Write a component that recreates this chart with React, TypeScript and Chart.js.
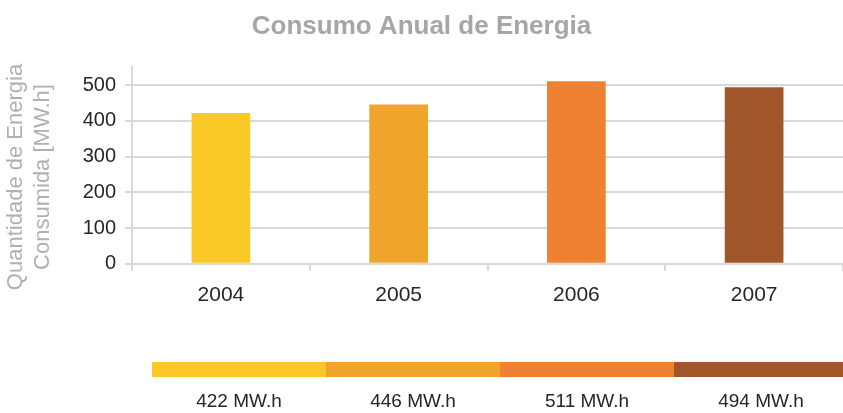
import React, { useEffect, useRef } from 'react';
import { Chart, registerables } from 'chart.js';

Chart.register(...registerables);

const years = ['2004', '2005', '2006', '2007'];
const consumption = [422, 446, 511, 494];
const barColors = ['#FBC925', '#EFA52B', '#EE8232', '#A0552B'];
const yTickValues = [0, 100, 200, 300, 400, 500];
const unitLabel = 'MW.h';
const chartTitle = 'Consumo Anual de Energia';
const yAxisTitle = ['Quantidade de Energia', 'Consumida [MW.h]'];

const FONT = '"Liberation Sans", Arial, Helvetica, sans-serif';

const stripPlugin = {
  id: 'valueStrip',
  afterDraw(chart: any) {
    const ctx = chart.ctx;
    const x0 = 152;
    const w = 174;
    const y = 362;
    const h = 15;
    ctx.save();
    consumption.forEach((_v, i) => {
      ctx.fillStyle = barColors[i];
      ctx.fillRect(x0 + i * w, y, w, h);
    });
    ctx.font = `19px ${FONT}`;
    ctx.fillStyle = '#262626';
    ctx.textAlign = 'center';
    ctx.textBaseline = 'middle';
    consumption.forEach((v, i) => {
      ctx.fillText(`${v} ${unitLabel}`, x0 + i * w + w / 2, 402);
    });
    ctx.restore();
  },
};

const yTitlePlugin = {
  id: 'yTitle',
  afterDraw(chart: any) {
    const ctx = chart.ctx;
    ctx.save();
    ctx.translate(16, 177);
    ctx.rotate(-Math.PI / 2);
    ctx.font = `22px ${FONT}`;
    ctx.fillStyle = '#b0b0b0';
    ctx.textAlign = 'center';
    ctx.textBaseline = 'middle';
    yAxisTitle.forEach((line, i) => {
      ctx.fillText(line, 0, i * 27);
    });
    ctx.restore();
  },
};

export default function App() {
  const ref = useRef<HTMLCanvasElement | null>(null);

  useEffect(() => {
    document.body.style.margin = '0';
    if (!ref.current) return;
    Chart.defaults.font.family = FONT;
    const chart = new Chart(ref.current, {
      type: 'bar',
      data: {
        labels: years,
        datasets: [
          {
            data: consumption,
            backgroundColor: barColors,
            borderWidth: 0,
            categoryPercentage: 1,
            barPercentage: 0.33,
          },
        ],
      },
      options: {
        responsive: false,
        animation: false,
        layout: { padding: { left: 0, right: 0, top: 0, bottom: 93 } },
        plugins: {
          legend: { display: false },
          tooltip: { enabled: false },
          title: {
            display: true,
            text: chartTitle,
            color: '#a6a6a6',
            font: { family: FONT, size: 26, weight: 'bold' },
            padding: { top: 11, bottom: 25 },
          },
        },
        scales: {
          x: {
            grid: {
              drawOnChartArea: false,
              drawTicks: true,
              tickLength: 7,
              color: '#d9d9d9',
              lineWidth: 2,
              offset: true,
            },
            border: { display: true, color: '#d9d9d9', width: 2 },
            ticks: { color: '#262626', font: { family: FONT, size: 21 }, padding: 12 },
          },
          y: {
            min: 0,
            max: 550,
            afterBuildTicks: (scale: any) => {
              scale.ticks = yTickValues.map((v) => ({ value: v }));
            },
            afterFit: (scale: any) => {
              scale.width = 132;
            },
            grid: { color: '#d9d9d9', lineWidth: 2, tickLength: 7 },
            border: { display: true, color: '#d9d9d9', width: 2 },
            ticks: { color: '#262626', font: { family: FONT, size: 20 }, padding: 9 },
          },
        },
      },
      plugins: [stripPlugin, yTitlePlugin],
    });
    return () => chart.destroy();
  }, []);

  return (
    <div style={{ width: 843, height: 413 }}>
      <canvas ref={ref} width={843} height={413} />
    </div>
  );
}
